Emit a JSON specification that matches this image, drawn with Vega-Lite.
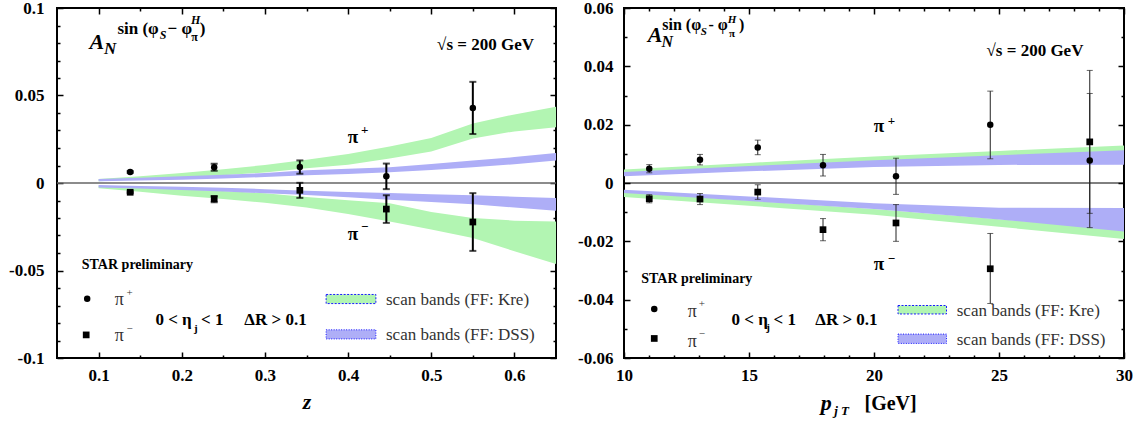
{
 "$schema": "https://vega.github.io/schema/vega-lite/v6.json",
 "padding": {"left": 7, "top": -2, "right": 0, "bottom": 0},
 "background": "white",
 "config": {
  "font": "Liberation Serif",
  "view": {"stroke": "black", "strokeWidth": 2},
  "axis": {"disable": true, "domain": false, "grid": false, "labelFlush": false, "labelOverlap": false, "labelBound": false, "labelFont": "Liberation Serif", "labelFontSize": 17, "labelFontWeight": "bold", "labelColor": "black", "tickColor": "black", "tickWidth": 1.5, "titleFont": "Liberation Serif", "titleColor": "black"},
  "text": {"align": "left", "baseline": "alphabetic", "fontWeight": "bold", "fontSize": 17, "fill": "black", "font": "Liberation Serif"}
 },
 "datasets": {
  "bandL": [
   {"ff": "Kre", "ch": "+", "x": 0.1, "lo": 0.0010, "hi": 0.0023},
   {"ff": "Kre", "ch": "+", "x": 0.15, "lo": 0.0020, "hi": 0.0038},
   {"ff": "Kre", "ch": "+", "x": 0.2, "lo": 0.0032, "hi": 0.0057},
   {"ff": "Kre", "ch": "+", "x": 0.25, "lo": 0.0044, "hi": 0.0078},
   {"ff": "Kre", "ch": "+", "x": 0.3, "lo": 0.0060, "hi": 0.0103},
   {"ff": "Kre", "ch": "+", "x": 0.35, "lo": 0.0085, "hi": 0.0133},
   {"ff": "Kre", "ch": "+", "x": 0.4, "lo": 0.0105, "hi": 0.0166},
   {"ff": "Kre", "ch": "+", "x": 0.45, "lo": 0.0140, "hi": 0.0208},
   {"ff": "Kre", "ch": "+", "x": 0.5, "lo": 0.0180, "hi": 0.0257},
   {"ff": "Kre", "ch": "+", "x": 0.55, "lo": 0.0255, "hi": 0.0340},
   {"ff": "Kre", "ch": "+", "x": 0.6, "lo": 0.0295, "hi": 0.0392},
   {"ff": "Kre", "ch": "+", "x": 0.65, "lo": 0.0318, "hi": 0.0436},
   {"ff": "Kre", "ch": "-", "x": 0.1, "lo": -0.0030, "hi": -0.0015},
   {"ff": "Kre", "ch": "-", "x": 0.15, "lo": -0.0050, "hi": -0.0025},
   {"ff": "Kre", "ch": "-", "x": 0.2, "lo": -0.0073, "hi": -0.0034},
   {"ff": "Kre", "ch": "-", "x": 0.25, "lo": -0.0092, "hi": -0.0046},
   {"ff": "Kre", "ch": "-", "x": 0.3, "lo": -0.0113, "hi": -0.0059},
   {"ff": "Kre", "ch": "-", "x": 0.35, "lo": -0.0140, "hi": -0.0080},
   {"ff": "Kre", "ch": "-", "x": 0.4, "lo": -0.0177, "hi": -0.0098},
   {"ff": "Kre", "ch": "-", "x": 0.45, "lo": -0.0220, "hi": -0.0115},
   {"ff": "Kre", "ch": "-", "x": 0.5, "lo": -0.0265, "hi": -0.0165},
   {"ff": "Kre", "ch": "-", "x": 0.55, "lo": -0.0314, "hi": -0.0200},
   {"ff": "Kre", "ch": "-", "x": 0.6, "lo": -0.0390, "hi": -0.0215},
   {"ff": "Kre", "ch": "-", "x": 0.65, "lo": -0.0463, "hi": -0.0220},
   {"ff": "DSS", "ch": "+", "x": 0.1, "lo": 0.0010, "hi": 0.0023},
   {"ff": "DSS", "ch": "+", "x": 0.15, "lo": 0.0015, "hi": 0.0030},
   {"ff": "DSS", "ch": "+", "x": 0.2, "lo": 0.0019, "hi": 0.0038},
   {"ff": "DSS", "ch": "+", "x": 0.25, "lo": 0.0026, "hi": 0.0047},
   {"ff": "DSS", "ch": "+", "x": 0.3, "lo": 0.0034, "hi": 0.0057},
   {"ff": "DSS", "ch": "+", "x": 0.35, "lo": 0.0044, "hi": 0.0073},
   {"ff": "DSS", "ch": "+", "x": 0.4, "lo": 0.0052, "hi": 0.0082},
   {"ff": "DSS", "ch": "+", "x": 0.45, "lo": 0.0061, "hi": 0.0090},
   {"ff": "DSS", "ch": "+", "x": 0.5, "lo": 0.0075, "hi": 0.0108},
   {"ff": "DSS", "ch": "+", "x": 0.55, "lo": 0.0090, "hi": 0.0128},
   {"ff": "DSS", "ch": "+", "x": 0.6, "lo": 0.0107, "hi": 0.0148},
   {"ff": "DSS", "ch": "+", "x": 0.65, "lo": 0.0128, "hi": 0.0172},
   {"ff": "DSS", "ch": "-", "x": 0.1, "lo": -0.0025, "hi": -0.0012},
   {"ff": "DSS", "ch": "-", "x": 0.15, "lo": -0.0032, "hi": -0.0017},
   {"ff": "DSS", "ch": "-", "x": 0.2, "lo": -0.0040, "hi": -0.0021},
   {"ff": "DSS", "ch": "-", "x": 0.25, "lo": -0.0049, "hi": -0.0027},
   {"ff": "DSS", "ch": "-", "x": 0.3, "lo": -0.0059, "hi": -0.0035},
   {"ff": "DSS", "ch": "-", "x": 0.35, "lo": -0.0068, "hi": -0.0044},
   {"ff": "DSS", "ch": "-", "x": 0.4, "lo": -0.0082, "hi": -0.0051},
   {"ff": "DSS", "ch": "-", "x": 0.45, "lo": -0.0095, "hi": -0.0057},
   {"ff": "DSS", "ch": "-", "x": 0.5, "lo": -0.0108, "hi": -0.0064},
   {"ff": "DSS", "ch": "-", "x": 0.55, "lo": -0.0121, "hi": -0.0070},
   {"ff": "DSS", "ch": "-", "x": 0.6, "lo": -0.0140, "hi": -0.0078},
   {"ff": "DSS", "ch": "-", "x": 0.65, "lo": -0.0158, "hi": -0.0086}
  ],
  "ptsL": [
   {"ch": "+", "x": 0.138, "y": 0.0063, "lo": 0.0058, "hi": 0.0068},
   {"ch": "+", "x": 0.239, "y": 0.0090, "lo": 0.0070, "hi": 0.0110},
   {"ch": "+", "x": 0.342, "y": 0.0091, "lo": 0.0053, "hi": 0.0129},
   {"ch": "+", "x": 0.446, "y": 0.0038, "lo": -0.0035, "hi": 0.0111},
   {"ch": "+", "x": 0.550, "y": 0.0429, "lo": 0.0280, "hi": 0.0578},
   {"ch": "-", "x": 0.138, "y": -0.0053, "lo": -0.0058, "hi": -0.0048},
   {"ch": "-", "x": 0.239, "y": -0.0090, "lo": -0.0110, "hi": -0.0075},
   {"ch": "-", "x": 0.342, "y": -0.0042, "lo": -0.0085, "hi": 0.0001},
   {"ch": "-", "x": 0.446, "y": -0.0149, "lo": -0.0228, "hi": -0.0070},
   {"ch": "-", "x": 0.550, "y": -0.0223, "lo": -0.0388, "hi": -0.0058}
  ],
  "bandR": [
   {"ff": "Kre", "ch": "+", "x": 10, "lo": 0.0030, "hi": 0.0046},
   {"ff": "Kre", "ch": "+", "x": 15, "lo": 0.0052, "hi": 0.0069},
   {"ff": "Kre", "ch": "+", "x": 20, "lo": 0.0075, "hi": 0.0091},
   {"ff": "Kre", "ch": "+", "x": 25, "lo": 0.0093, "hi": 0.0110},
   {"ff": "Kre", "ch": "+", "x": 30, "lo": 0.0110, "hi": 0.0129},
   {"ff": "Kre", "ch": "-", "x": 10, "lo": -0.0048, "hi": -0.0032},
   {"ff": "Kre", "ch": "-", "x": 15, "lo": -0.0078, "hi": -0.0060},
   {"ff": "Kre", "ch": "-", "x": 20, "lo": -0.0109, "hi": -0.0089},
   {"ff": "Kre", "ch": "-", "x": 25, "lo": -0.0150, "hi": -0.0124},
   {"ff": "Kre", "ch": "-", "x": 30, "lo": -0.0192, "hi": -0.0160},
   {"ff": "DSS", "ch": "+", "x": 10, "lo": 0.0023, "hi": 0.0038},
   {"ff": "DSS", "ch": "+", "x": 15, "lo": 0.0040, "hi": 0.0058},
   {"ff": "DSS", "ch": "+", "x": 20, "lo": 0.0055, "hi": 0.0078},
   {"ff": "DSS", "ch": "+", "x": 25, "lo": 0.0062, "hi": 0.0095},
   {"ff": "DSS", "ch": "+", "x": 30, "lo": 0.0063, "hi": 0.0112},
   {"ff": "DSS", "ch": "-", "x": 10, "lo": -0.0034, "hi": -0.0023},
   {"ff": "DSS", "ch": "-", "x": 15, "lo": -0.0062, "hi": -0.0046},
   {"ff": "DSS", "ch": "-", "x": 20, "lo": -0.0089, "hi": -0.0069},
   {"ff": "DSS", "ch": "-", "x": 25, "lo": -0.0125, "hi": -0.0085},
   {"ff": "DSS", "ch": "-", "x": 30, "lo": -0.0166, "hi": -0.0086}
  ],
  "ptsR": [
   {"ch": "+", "x": 11.01, "y": 0.0049, "lo": 0.0035, "hi": 0.0063},
   {"ch": "+", "x": 13.04, "y": 0.0080, "lo": 0.0062, "hi": 0.0098},
   {"ch": "+", "x": 15.35, "y": 0.0122, "lo": 0.0097, "hi": 0.0147},
   {"ch": "+", "x": 17.96, "y": 0.0061, "lo": 0.0024, "hi": 0.0098},
   {"ch": "+", "x": 20.88, "y": 0.0023, "lo": -0.0039, "hi": 0.0085},
   {"ch": "+", "x": 24.65, "y": 0.0200, "lo": 0.0083, "hi": 0.0315},
   {"ch": "+", "x": 28.63, "y": 0.0077, "lo": -0.0153, "hi": 0.0307},
   {"ch": "-", "x": 11.01, "y": -0.0054, "lo": -0.0068, "hi": -0.0040},
   {"ch": "-", "x": 13.04, "y": -0.0055, "lo": -0.0074, "hi": -0.0036},
   {"ch": "-", "x": 15.35, "y": -0.0031, "lo": -0.0056, "hi": -0.0006},
   {"ch": "-", "x": 17.96, "y": -0.0160, "lo": -0.0198, "hi": -0.0122},
   {"ch": "-", "x": 20.88, "y": -0.0137, "lo": -0.0200, "hi": -0.0074},
   {"ch": "-", "x": 24.65, "y": -0.0294, "lo": -0.0413, "hi": -0.0173},
   {"ch": "-", "x": 28.63, "y": 0.0141, "lo": -0.0104, "hi": 0.0386}
  ]
 },
 "spacing": 68,
 "bounds": "flush",
 "hconcat": [
  {
   "width": 499, "height": 350,
   "data": {"values": [{}]},
   "resolve": {"axis": {"x": "independent", "y": "independent"}},
   "layer": [
    {"data": {"name": "bandL"}, "transform": [{"filter": "datum.ff == 'Kre'"}],
     "mark": {"type": "area", "fill": "#b2f5b2", "opacity": 1},
     "encoding": {
      "x": {"field": "x", "type": "quantitative", "scale": {"domain": [0.05, 0.65], "nice": false, "zero": false},
            "axis": {"orient": "bottom", "values": [0.1, 0.2, 0.3, 0.4, 0.5, 0.6], "ticks": false, "labelPadding": 9, "title": "z", "titleFontSize": 22, "titleFontStyle": "italic", "titleFontWeight": "bold", "titlePadding": 8}},
      "y": {"field": "lo", "type": "quantitative", "scale": {"domain": [-0.1, 0.1], "nice": false, "zero": false},
            "axis": {"orient": "left", "values": [-0.1, -0.05, 0, 0.05, 0.1], "ticks": false, "labelPadding": 13, "labelExpr": "'' + datum.value", "title": null}},
      "y2": {"field": "hi"},
      "detail": {"field": "ch"}
     }},
    {"data": {"name": "bandL"}, "transform": [{"filter": "datum.ff == 'DSS'"}],
     "mark": {"type": "area", "fill": "#aeaef7", "opacity": 1},
     "encoding": {
      "x": {"field": "x", "type": "quantitative", "axis": {"orient": "bottom", "values": [0.1, 0.2, 0.3, 0.4, 0.5, 0.6], "labels": false, "ticks": true, "tickSize": -6, "title": null}},
      "y": {"field": "lo", "type": "quantitative", "axis": {"orient": "left", "values": [-0.1, -0.05, 0, 0.05, 0.1], "labels": false, "ticks": true, "tickSize": -6, "title": null}},
      "y2": {"field": "hi"},
      "detail": {"field": "ch"}
     }},
    {"mark": {"type": "rule", "color": "#666666", "strokeWidth": 1.5}, "encoding": {"y": {"datum": 0}}},
    {"data": {"name": "ptsL"},
     "mark": {"type": "errorbar", "ticks": {"size": 7, "thickness": 2, "color": "black"}, "rule": {"strokeWidth": 2, "color": "black"}},
     "encoding": {
      "x": {"field": "x", "type": "quantitative", "axis": {"orient": "bottom", "values": [0.15, 0.25, 0.35, 0.45, 0.55], "labels": false, "ticks": true, "tickSize": -3, "title": null}},
      "y": {"field": "lo", "type": "quantitative", "axis": {"orient": "left", "values": [-0.09, -0.08, -0.07, -0.06, -0.04, -0.03, -0.02, -0.01, 0.01, 0.02, 0.03, 0.04, 0.06, 0.07, 0.08, 0.09], "labels": false, "ticks": true, "tickSize": -3, "title": null}},
      "y2": {"field": "hi"}
     }},
    {"data": {"name": "ptsL"}, "transform": [{"filter": "datum.ch == '+'"}],
     "mark": {"type": "point", "shape": "circle", "filled": true, "size": 42, "color": "black", "opacity": 1},
     "encoding": {
      "x": {"field": "x", "type": "quantitative", "axis": {"orient": "top", "values": [0.1, 0.2, 0.3, 0.4, 0.5, 0.6], "labels": false, "ticks": true, "tickSize": -6, "title": null}},
      "y": {"field": "y", "type": "quantitative", "axis": {"orient": "right", "values": [-0.1, -0.05, 0, 0.05, 0.1], "labels": false, "ticks": true, "tickSize": -6, "title": null}}
     }},
    {"data": {"name": "ptsL"}, "transform": [{"filter": "datum.ch == '-'"}],
     "mark": {"type": "point", "shape": "square", "filled": true, "size": 45, "color": "black", "opacity": 1},
     "encoding": {
      "x": {"field": "x", "type": "quantitative", "axis": {"orient": "top", "values": [0.15, 0.25, 0.35, 0.45, 0.55], "labels": false, "ticks": true, "tickSize": -3, "title": null}},
      "y": {"field": "y", "type": "quantitative", "axis": {"orient": "right", "values": [-0.09, -0.08, -0.07, -0.06, -0.04, -0.03, -0.02, -0.01, 0.01, 0.02, 0.03, 0.04, 0.06, 0.07, 0.08, 0.09], "labels": false, "ticks": true, "tickSize": -3, "title": null}}
     }},
    {"mark": {"type": "text", "text": "A", "fontSize": 22, "fontStyle": "italic"}, "encoding": {"x": {"datum": 0.089}, "y": {"datum": 0.0766}}},
    {"mark": {"type": "text", "text": "N", "fontSize": 17, "fontStyle": "italic"}, "encoding": {"x": {"datum": 0.1065}, "y": {"datum": 0.0737}}},
    {"mark": {"type": "text", "text": "sin (φ", "fontSize": 17}, "encoding": {"x": {"datum": 0.1226}, "y": {"datum": 0.0852}}},
    {"mark": {"type": "text", "text": "S", "fontSize": 12, "fontStyle": "italic"}, "encoding": {"x": {"datum": 0.1735}, "y": {"datum": 0.0823}}},
    {"mark": {"type": "text", "text": "− φ", "fontSize": 17}, "encoding": {"x": {"datum": 0.1830}, "y": {"datum": 0.0852}}},
    {"mark": {"type": "text", "text": "π", "fontSize": 12}, "encoding": {"x": {"datum": 0.2115}, "y": {"datum": 0.0814}}},
    {"mark": {"type": "text", "text": "H", "fontSize": 12, "fontStyle": "italic"}, "encoding": {"x": {"datum": 0.2110}, "y": {"datum": 0.0910}}},
    {"mark": {"type": "text", "text": ")", "fontSize": 17}, "encoding": {"x": {"datum": 0.2215}, "y": {"datum": 0.0852}}},
    {"mark": {"type": "text", "text": "√s = 200 GeV", "fontSize": 17}, "encoding": {"x": {"datum": 0.507}, "y": {"datum": 0.0762}}},
    {"mark": {"type": "text", "text": "π", "fontSize": 19}, "encoding": {"x": {"datum": 0.3995}, "y": {"datum": 0.0230}}},
    {"mark": {"type": "text", "text": "+", "fontSize": 13, "baseline": "middle"}, "encoding": {"x": {"datum": 0.4155}, "y": {"datum": 0.0303}}},
    {"mark": {"type": "text", "text": "π", "fontSize": 19}, "encoding": {"x": {"datum": 0.3995}, "y": {"datum": -0.0327}}},
    {"mark": {"type": "text", "text": "−", "fontSize": 13, "baseline": "middle"}, "encoding": {"x": {"datum": 0.4155}, "y": {"datum": -0.0251}}},
    {"mark": {"type": "text", "text": "STAR preliminary", "fontSize": 14}, "encoding": {"x": {"datum": 0.0798}, "y": {"datum": -0.049}}},
    {"mark": {"type": "point", "shape": "circle", "filled": true, "size": 42, "color": "black", "opacity": 1}, "encoding": {"x": {"datum": 0.0863}, "y": {"datum": -0.0661}}},
    {"mark": {"type": "point", "shape": "square", "filled": true, "size": 45, "color": "black", "opacity": 1}, "encoding": {"x": {"datum": 0.0851}, "y": {"datum": -0.0868}}},
    {"mark": {"type": "text", "text": "π", "fontSize": 18, "fontWeight": "normal", "fill": "#333333"}, "encoding": {"x": {"datum": 0.1194}, "y": {"datum": -0.0695}}},
    {"mark": {"type": "text", "text": "+", "fontSize": 11, "fontWeight": "normal", "fill": "#333333", "baseline": "middle"}, "encoding": {"x": {"datum": 0.1335}, "y": {"datum": -0.0629}}},
    {"mark": {"type": "text", "text": "π", "fontSize": 18, "fontWeight": "normal", "fill": "#333333"}, "encoding": {"x": {"datum": 0.1194}, "y": {"datum": -0.090}}},
    {"mark": {"type": "text", "text": "−", "fontSize": 11, "fontWeight": "normal", "fill": "#333333", "baseline": "middle"}, "encoding": {"x": {"datum": 0.1335}, "y": {"datum": -0.0834}}},
    {"mark": {"type": "text", "text": "0 <", "fontSize": 17}, "encoding": {"x": {"datum": 0.1685}, "y": {"datum": -0.081}}},
    {"mark": {"type": "text", "text": "η", "fontSize": 17}, "encoding": {"x": {"datum": 0.2003}, "y": {"datum": -0.081}}},
    {"mark": {"type": "text", "text": "j", "fontSize": 11}, "encoding": {"x": {"datum": 0.2147}, "y": {"datum": -0.0851}}},
    {"mark": {"type": "text", "text": "< 1", "fontSize": 17}, "encoding": {"x": {"datum": 0.2232}, "y": {"datum": -0.081}}},
    {"mark": {"type": "text", "text": "ΔR > 0.1", "fontSize": 17}, "encoding": {"x": {"datum": 0.2753}, "y": {"datum": -0.081}}},
    {"mark": {"type": "rect", "fill": "#b2f5b2", "stroke": "#1a1aff", "strokeWidth": 1, "strokeDash": [2, 1.5]}, "encoding": {"x": {"datum": 0.3736}, "x2": {"datum": 0.4334}, "y": {"datum": -0.0689}, "y2": {"datum": -0.0637}}},
    {"mark": {"type": "rect", "fill": "#aeaef7", "stroke": "#1a1aff", "strokeWidth": 1, "strokeDash": [1, 1.5]}, "encoding": {"x": {"datum": 0.3736}, "x2": {"datum": 0.4334}, "y": {"datum": -0.0891}, "y2": {"datum": -0.0839}}},
    {"mark": {"type": "text", "text": "scan bands (FF: Kre)", "fontSize": 17, "fontWeight": "normal", "fill": "#333333"}, "encoding": {"x": {"datum": 0.4456}, "y": {"datum": -0.0695}}},
    {"mark": {"type": "text", "text": "scan bands (FF: DSS)", "fontSize": 17, "fontWeight": "normal", "fill": "#333333"}, "encoding": {"x": {"datum": 0.4456}, "y": {"datum": -0.0897}}}
   ]
  },
  {
   "width": 500, "height": 350,
   "data": {"values": [{}]},
   "resolve": {"axis": {"x": "independent", "y": "independent"}},
   "layer": [
    {"data": {"name": "bandR"}, "transform": [{"filter": "datum.ff == 'Kre'"}],
     "mark": {"type": "area", "fill": "#b2f5b2", "opacity": 1},
     "encoding": {
      "x": {"field": "x", "type": "quantitative", "scale": {"domain": [10, 30], "nice": false, "zero": false},
            "axis": {"orient": "bottom", "values": [10, 15, 20, 25, 30], "ticks": false, "labelPadding": 9, "title": null}},
      "y": {"field": "lo", "type": "quantitative", "scale": {"domain": [-0.06, 0.06], "nice": false, "zero": false},
            "axis": {"orient": "left", "values": [-0.06, -0.04, -0.02, 0, 0.02, 0.04, 0.06], "ticks": false, "labelPadding": 11, "labelExpr": "'' + datum.value", "title": null}},
      "y2": {"field": "hi"},
      "detail": {"field": "ch"}
     }},
    {"data": {"name": "bandR"}, "transform": [{"filter": "datum.ff == 'DSS'"}],
     "mark": {"type": "area", "fill": "#aeaef7", "opacity": 1},
     "encoding": {
      "x": {"field": "x", "type": "quantitative", "axis": {"orient": "bottom", "values": [10, 15, 20, 25, 30], "labels": false, "ticks": true, "tickSize": -6, "title": null}},
      "y": {"field": "lo", "type": "quantitative", "axis": {"orient": "left", "values": [-0.06, -0.04, -0.02, 0, 0.02, 0.04, 0.06], "labels": false, "ticks": true, "tickSize": -6, "title": null}},
      "y2": {"field": "hi"},
      "detail": {"field": "ch"}
     }},
    {"mark": {"type": "rule", "color": "black", "strokeWidth": 1}, "encoding": {"y": {"datum": 0}}},
    {"data": {"name": "ptsR"},
     "mark": {"type": "errorbar", "ticks": {"size": 6, "thickness": 1, "color": "#222222"}, "rule": {"strokeWidth": 1, "color": "#222222"}},
     "encoding": {
      "x": {"field": "x", "type": "quantitative", "axis": {"orient": "bottom", "values": [11, 12, 13, 14, 16, 17, 18, 19, 21, 22, 23, 24, 26, 27, 28, 29], "labels": false, "ticks": true, "tickSize": -3, "title": null}},
      "y": {"field": "lo", "type": "quantitative", "axis": {"orient": "left", "values": [-0.05, -0.03, -0.01, 0.01, 0.03, 0.05], "labels": false, "ticks": true, "tickSize": -3, "title": null}},
      "y2": {"field": "hi"}
     }},
    {"data": {"name": "ptsR"}, "transform": [{"filter": "datum.ch == '+'"}],
     "mark": {"type": "point", "shape": "circle", "filled": true, "size": 42, "color": "black", "opacity": 1},
     "encoding": {
      "x": {"field": "x", "type": "quantitative", "axis": {"orient": "top", "values": [10, 15, 20, 25, 30], "labels": false, "ticks": true, "tickSize": -6, "title": null}},
      "y": {"field": "y", "type": "quantitative", "axis": {"orient": "right", "values": [-0.06, -0.04, -0.02, 0, 0.02, 0.04, 0.06], "labels": false, "ticks": true, "tickSize": -6, "title": null}}
     }},
    {"data": {"name": "ptsR"}, "transform": [{"filter": "datum.ch == '-'"}],
     "mark": {"type": "point", "shape": "square", "filled": true, "size": 45, "color": "black", "opacity": 1},
     "encoding": {
      "x": {"field": "x", "type": "quantitative", "axis": {"orient": "top", "values": [11, 12, 13, 14, 16, 17, 18, 19, 21, 22, 23, 24, 26, 27, 28, 29], "labels": false, "ticks": true, "tickSize": -3, "title": null}},
      "y": {"field": "y", "type": "quantitative", "axis": {"orient": "right", "values": [-0.05, -0.03, -0.01, 0.01, 0.03, 0.05], "labels": false, "ticks": true, "tickSize": -3, "title": null}}
     }},
    {"mark": {"type": "text", "text": "A", "fontSize": 22, "fontStyle": "italic"}, "encoding": {"x": {"datum": 10.95}, "y": {"datum": 0.0482}}},
    {"mark": {"type": "text", "text": "N", "fontSize": 16, "fontStyle": "italic"}, "encoding": {"x": {"datum": 11.5}, "y": {"datum": 0.0466}}},
    {"mark": {"type": "text", "text": "sin (φ", "fontSize": 16}, "encoding": {"x": {"datum": 11.53}, "y": {"datum": 0.0524}}},
    {"mark": {"type": "text", "text": "S", "fontSize": 11, "fontStyle": "italic"}, "encoding": {"x": {"datum": 13.07}, "y": {"datum": 0.0506}}},
    {"mark": {"type": "text", "text": "- φ", "fontSize": 16}, "encoding": {"x": {"datum": 13.38}, "y": {"datum": 0.0524}}},
    {"mark": {"type": "text", "text": "π", "fontSize": 11}, "encoding": {"x": {"datum": 14.2}, "y": {"datum": 0.0500}}},
    {"mark": {"type": "text", "text": "H", "fontSize": 11, "fontStyle": "italic"}, "encoding": {"x": {"datum": 14.15}, "y": {"datum": 0.0547}}},
    {"mark": {"type": "text", "text": ")", "fontSize": 16}, "encoding": {"x": {"datum": 14.6}, "y": {"datum": 0.0524}}},
    {"mark": {"type": "text", "text": "√s = 200 GeV", "fontSize": 17}, "encoding": {"x": {"datum": 24.5}, "y": {"datum": 0.0435}}},
    {"mark": {"type": "text", "text": "π", "fontSize": 19}, "encoding": {"x": {"datum": 19.99}, "y": {"datum": 0.0175}}},
    {"mark": {"type": "text", "text": "+", "fontSize": 13, "baseline": "middle"}, "encoding": {"x": {"datum": 20.55}, "y": {"datum": 0.0213}}},
    {"mark": {"type": "text", "text": "π", "fontSize": 19}, "encoding": {"x": {"datum": 19.99}, "y": {"datum": -0.0299}}},
    {"mark": {"type": "text", "text": "−", "fontSize": 13, "baseline": "middle"}, "encoding": {"x": {"datum": 20.55}, "y": {"datum": -0.0259}}},
    {"mark": {"type": "text", "text": "STAR preliminary", "fontSize": 14}, "encoding": {"x": {"datum": 10.69}, "y": {"datum": -0.0343}}},
    {"mark": {"type": "point", "shape": "circle", "filled": true, "size": 42, "color": "black", "opacity": 1}, "encoding": {"x": {"datum": 11.21}, "y": {"datum": -0.0432}}},
    {"mark": {"type": "point", "shape": "square", "filled": true, "size": 45, "color": "black", "opacity": 1}, "encoding": {"x": {"datum": 11.21}, "y": {"datum": -0.0533}}},
    {"mark": {"type": "text", "text": "π", "fontSize": 18, "fontWeight": "normal", "fill": "#333333"}, "encoding": {"x": {"datum": 12.55}, "y": {"datum": -0.046}}},
    {"mark": {"type": "text", "text": "+", "fontSize": 11, "fontWeight": "normal", "fill": "#333333", "baseline": "middle"}, "encoding": {"x": {"datum": 12.99}, "y": {"datum": -0.0414}}},
    {"mark": {"type": "text", "text": "π", "fontSize": 18, "fontWeight": "normal", "fill": "#333333"}, "encoding": {"x": {"datum": 12.55}, "y": {"datum": -0.0562}}},
    {"mark": {"type": "text", "text": "−", "fontSize": 11, "fontWeight": "normal", "fill": "#333333", "baseline": "middle"}, "encoding": {"x": {"datum": 12.99}, "y": {"datum": -0.0518}}},
    {"mark": {"type": "text", "text": "0 < η", "fontSize": 17}, "encoding": {"x": {"datum": 14.3}, "y": {"datum": -0.0486}}},
    {"mark": {"type": "text", "text": "j", "fontSize": 11}, "encoding": {"x": {"datum": 15.69}, "y": {"datum": -0.0506}}},
    {"mark": {"type": "text", "text": "< 1", "fontSize": 17}, "encoding": {"x": {"datum": 15.98}, "y": {"datum": -0.0486}}},
    {"mark": {"type": "text", "text": "ΔR > 0.1", "fontSize": 17}, "encoding": {"x": {"datum": 17.65}, "y": {"datum": -0.0486}}},
    {"mark": {"type": "rect", "fill": "#b2f5b2", "stroke": "#1a1aff", "strokeWidth": 1, "strokeDash": [2, 1.5]}, "encoding": {"x": {"datum": 20.96}, "x2": {"datum": 22.9}, "y": {"datum": -0.0449}, "y2": {"datum": -0.042}}},
    {"mark": {"type": "rect", "fill": "#aeaef7", "stroke": "#1a1aff", "strokeWidth": 1, "strokeDash": [1, 1.5]}, "encoding": {"x": {"datum": 20.96}, "x2": {"datum": 22.9}, "y": {"datum": -0.055}, "y2": {"datum": -0.0518}}},
    {"mark": {"type": "text", "text": "scan bands (FF: Kre)", "fontSize": 17, "fontWeight": "normal", "fill": "#333333"}, "encoding": {"x": {"datum": 23.31}, "y": {"datum": -0.0455}}},
    {"mark": {"type": "text", "text": "scan bands (FF: DSS)", "fontSize": 17, "fontWeight": "normal", "fill": "#333333"}, "encoding": {"x": {"datum": 23.31}, "y": {"datum": -0.0555}}},
    {"mark": {"type": "text", "text": "p", "fontSize": 22, "fontStyle": "italic"}, "encoding": {"x": {"datum": 17.87}, "y": {"datum": -0.0777}}},
    {"mark": {"type": "text", "text": "j T", "fontSize": 13, "fontStyle": "italic"}, "encoding": {"x": {"datum": 18.41}, "y": {"datum": -0.0795}}},
    {"mark": {"type": "text", "text": "[GeV]", "fontSize": 20}, "encoding": {"x": {"datum": 19.62}, "y": {"datum": -0.0777}}}
   ]
  }
 ]
}
